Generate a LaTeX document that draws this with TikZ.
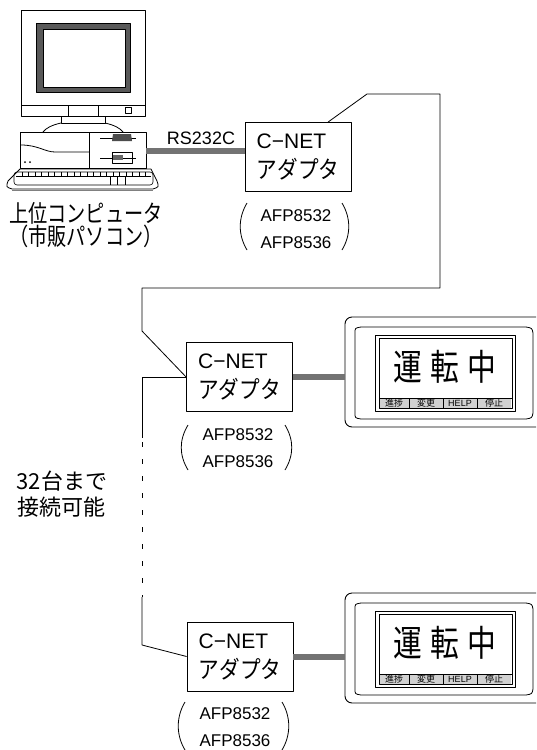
\documentclass[tikz,border=0pt]{standalone}
\usepackage{fontspec}
\setmainfont{Liberation Sans}
\newfontfamily\jp{Noto Sans CJK JP}
\usetikzlibrary{calc}

% condensed Japanese text
\newcommand{\jpn}[2]{{\jp\fontsize{#1}{30}\selectfont\scalebox{0.8}[1]{#2}}}
\newcommand{\jpw}[2]{{\jp\fontsize{#1}{30}\selectfont\scalebox{0.86}[1]{#2}}}

\tikzset{
  wire/.style={line width=0.8pt},
  cable/.style={line width=6pt, draw=black!55},
  adapter/.style={draw, line width=0.8pt, minimum width=106pt, minimum height=69pt,
    align=left, inner sep=0pt, font=\fontsize{21}{30}\selectfont},
  model/.style={align=center, inner sep=0pt, font=\fontsize{17}{27}\selectfont},
  paren/.style={line width=0.8pt},
  jplabel/.style={align=center, inner sep=0pt},
  hmi/.pic={
    % case
    \draw[line width=0.9pt, rounded corners=7pt] (0,0) rectangle (205,110);
    \coordinate (-w) at (0,59);
    % bezel
    \draw[line width=0.8pt] (10,16) .. controls (10,11) .. (16,10) -- (181,10)
      .. controls (187,11) .. (188,16) -- (188,96) .. controls (187,101) .. (181,102)
      -- (16,102) .. controls (10,101) .. (10,96) -- cycle;
    % screen
    \draw[line width=0.9pt] (30,18) rectangle (170,94);
    \draw[line width=0.6pt] (34,21) rectangle (167,91);
    % soft keys
    \fill[black!18] (35,82) rectangle (166,90.5);
    \draw[line width=0.6pt] (34,81) -- (167,81);
    \foreach \sx in {64,98,132} \draw[line width=0.6pt] (\sx,81) -- (\sx,91);
    \node[inner sep=0pt, font=\jp\fontsize{9}{9}\selectfont] (-k1) at (49,86) {進捗};
    \node[inner sep=0pt, font=\jp\fontsize{9}{9}\selectfont] (-k2) at (81,86) {変更};
    \node[inner sep=0pt, font=\fontsize{9}{9}\selectfont] (-k3) at (115,86) {HELP};
    \node[inner sep=0pt, font=\jp\fontsize{9}{9}\selectfont] (-k4) at (149,86) {停止};
    % message
    \node[inner sep=0pt] (-msg) at (100,50)
      {\jpn{36}{運}\hspace{8pt}\jpn{36}{転}\hspace{8pt}\jpn{36}{中}};
  }
}

\begin{document}
\begin{tikzpicture}[x=1pt, y=-1pt, line join=round, line width=0.8pt]
\clip (0,0) rectangle (536,750);
\fill[white] (0,0) rectangle (536,750);

% ---------- host computer ----------
% monitor
\draw (21,10) rectangle (145,116);
\draw[even odd rule, fill=black!65] (36,23) rectangle (130,92) (43,29) rectangle (125,87);
\draw (21,105) -- (145,105);
\draw (68,105) -- (68,116) (98,105) -- (98,116);
\draw[line width=0.6pt] (125,107) rectangle (131,113);
% stand
\draw (61,116) -- (61,123) -- (105,123) -- (105,116);
\draw (61,123) .. controls (52,125) and (46,128) .. (43,132);
\draw (105,123) .. controls (114,125) and (120,128) .. (123,132);
% system unit
\draw (20,132) rectangle (146,168);
\draw (89,132) -- (89,168);
\draw (21,145) .. controls (38,145) and (45,152) .. (55,152) -- (89,152);
\fill (25,162) circle (1) (30,162) circle (1);
\draw (100,138) -- (136,138);
\fill[black!70] (113,134) -- (131,134) -- (132,141) -- (112,141) -- cycle;
\draw (100,158) -- (136,158);
\draw (112,152) rectangle (132,163);
\fill[black!60] (113,155) rectangle (123,160);
% keyboard
\draw[fill=white] (20,169) -- (151,169) -- (157,181) .. controls (159,187) .. (153,189)
  -- (12,189) .. controls (6,187) .. (8,181) -- cycle;
\draw[line width=0.6pt, rounded corners=3pt] (14,172) rectangle (153,185);
\draw[line width=0.6pt] (16,176) -- (151,176);
\foreach \kx in {22,28.5,...,150} \draw[line width=0.6pt] (\kx,172) -- (\kx,176);
\draw[line width=0.6pt] (110,176) -- (110,185) (117,176) -- (117,185) (125,176) -- (125,185);
\draw[black!50, line width=1.5pt] (12,190.5) -- (153,190.5);
\coordinate (pcport) at (146,151);

\node[jplabel] (pclabel) at (86,225)
  {\jpn{24}{上位コンピュータ}\\\jpn{24}{（市販パソコン）}};

% ---------- adapters ----------
\node[adapter] (ad1) at (298,157) {C−NET\\\jpw{24}{アダプタ}};
\node[adapter] (ad2) at (239.5,377) {C−NET\\\jpw{24}{アダプタ}};
\node[adapter] (ad3) at (240,656.5) {C−NET\\\jpw{24}{アダプタ}};

\node[model] (m1) at (296,229) {AFP8532\\AFP8536};
\node[model] (m2) at (238,448) {AFP8532\\AFP8536};
\node[model] (m3) at (235,727) {AFP8532\\AFP8536};

% parentheses around the model numbers
\draw[paren] (247,203) .. controls (238,218) and (238,235) .. (247,250);
\draw[paren] (342,203) .. controls (351,218) and (351,235) .. (342,250);
\draw[paren] (188,425) .. controls (179,440) and (179,455) .. (188,470);
\draw[paren] (285,425) .. controls (294,440) and (294,455) .. (285,470);
\draw[paren] (185,702) .. controls (176,717) and (176,735) .. (185,750);
\draw[paren] (282,702) .. controls (291,717) and (291,735) .. (282,750);

% ---------- operator panels ----------
\pic (hmi1) at (345,317) {hmi};
\pic (hmi2) at (345,593) {hmi};

% ---------- RS-232C and panel cables ----------
\draw[cable] (pcport) -- (pcport -| ad1.west);
\node[inner sep=0pt, font=\fontsize{18}{18}\selectfont] (rs) at (201,138.5) {RS232C};
\draw[cable] (ad2.east) -- (ad2.east -| hmi1-w);
\draw[cable] (ad3.east) -- (ad3.east -| hmi2-w);

% ---------- C-NET bus ----------
\coordinate (t1) at ($(ad1.north)+(30,0)$);
\coordinate (bus) at (142,0);
\draw[wire] (t1) -- (367,94) -- (440,94) -- (440,288) -- (142,288) -- (142,331) -- (ad2.west);
\draw[wire] (ad2.west) -- (ad2.west -| bus) -- (142,438);
\draw[wire, dash pattern=on 5pt off 12pt] (142,442) -- (142,597);
\draw[wire] (142,597) -- (142,645) -- (ad3.west);

\node[jplabel, font=\jp\fontsize{22}{26}\selectfont] (note) at (62,494) {32台まで\\接続可能};
\end{tikzpicture}
\end{document}
